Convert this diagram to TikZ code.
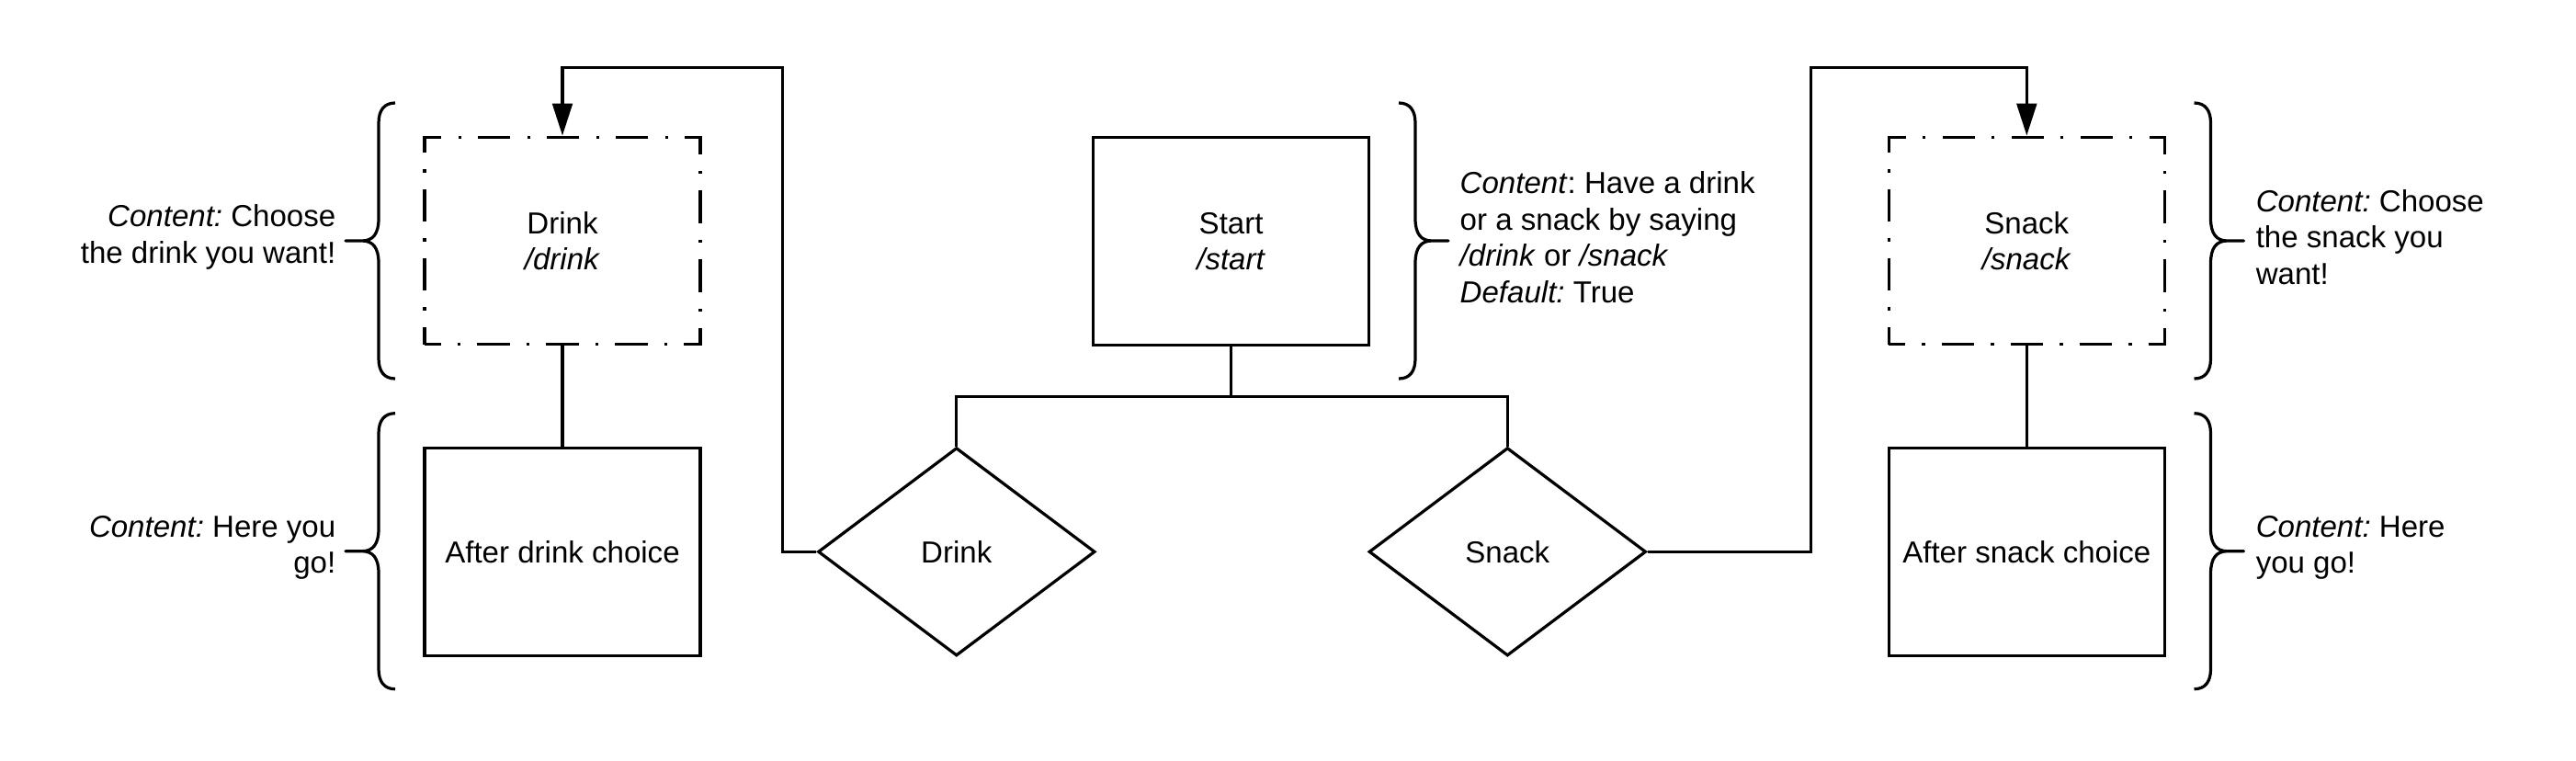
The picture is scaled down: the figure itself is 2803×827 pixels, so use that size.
\documentclass[tikz,border=0pt]{standalone}
\usepackage{fontspec}
\setmainfont{Liberation Sans}
\usetikzlibrary{shapes.geometric,arrows.meta,positioning}
\frenchspacing

\begin{document}
\begin{tikzpicture}[x=0.2783pt,y=-0.2783pt,
  every node/.style={font=\fontsize{9.2pt}{11pt}\selectfont},
  line/.style={line width=0.9pt},
  box/.style={draw,line width=0.9pt,minimum width=83.5pt,minimum height=62.8pt,inner sep=0pt,align=center},
  menu/.style={box,dash pattern=on 9.8pt off 5.05pt on 0.97pt off 5.05pt,dash phase=4.9pt},
  choice/.style={diamond,draw,line width=0.9pt,minimum width=83.9pt,minimum height=63pt,inner sep=0pt},
  note/.style={inner sep=0pt},
  curly/.pic={\draw[line,line join=round] (-54,-150) .. controls (-42,-150) and (-36,-142) .. (-36,-128)
    -- (-36,-24) .. controls (-36,-8) and (-30,0) .. (-18,0) -- (0,0) -- (-18,0)
    .. controls (-30,0) and (-36,8) .. (-36,24) -- (-36,128)
    .. controls (-36,142) and (-42,150) .. (-54,150);}]
\useasboundingbox (0,0) rectangle (2803,827);

\node[menu] (drink) at (612,262) {Drink\\\textit{/drink}};
\node[box] (afterdrink) at (612,600.5) {After drink choice};
\node[box] (start) at (1339.6,262.4) {Start\\\textit{/start}};
\node[choice] (drinkq) at (1040.8,600.3) {Drink};
\node[choice] (snackq) at (1640.3,600.3) {Snack};
\node[menu] (snack) at (2205.3,262) {Snack\\\textit{/snack}};
\node[box] (aftersnack) at (2205.3,600.5) {After snack choice};

\coordinate (fork) at (1339.6,431.4);
\coordinate (drinkloop) at (851.3,73.8);
\coordinate (snackloop) at (1970.3,73.8);

\draw[line] (drink) -- (afterdrink);
\draw[line] (snack) -- (aftersnack);
\draw[line] (start) -- (fork);
\draw[line] (drinkq.north) |- (fork) -| (snackq.north);
\draw[line,-{Triangle[length=9.7pt,width=6pt]}] (drinkq.west) -| (drinkloop) -| (drink.north);
\draw[line,-{Triangle[length=9.7pt,width=6pt]}] (snackq.east) -| (snackloop) -| (snack.north);

\pic[xscale=-1] at (376,262) {curly};
\pic[xscale=-1] at (376,599.7) {curly};
\pic at (1576,262) {curly};
\pic at (2441.5,262) {curly};
\pic at (2441.5,599.7) {curly};

\node[note,anchor=east,align=right] (drinknote) at (366,258) {\textit{Content:} Choose\\the drink you want!};
\node[note,anchor=east,align=right] (afterdrinknote) at (366,596) {\textit{Content:} Here you\\go!};
\node[note,anchor=west,align=left] (startnote) at (1588,258) {\textit{Content}: Have a drink\\or a snack by saying\\\textit{/drink} or \textit{/snack}\\\textit{Default:} True};
\node[note,anchor=west,align=left] (snacknote) at (2454,258) {\textit{Content:} Choose\\the snack you\\want!};
\node[note,anchor=west,align=left] (aftersnacknote) at (2454,596) {\textit{Content:} Here\\you go!};
\end{tikzpicture}
\end{document}
